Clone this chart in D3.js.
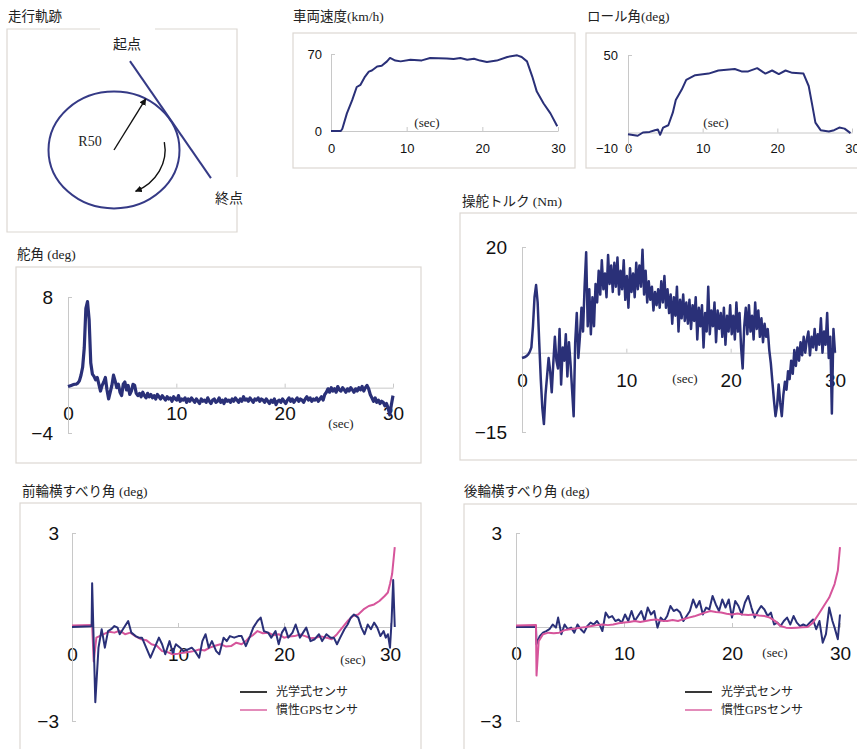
<!DOCTYPE html>
<html>
<head>
<meta charset="utf-8">
<script src="https://cdn.jsdelivr.net/npm/d3@7"></script>
<style>
    body { margin: 0; background: #fff; }
    svg { display: block; }
    .title { font-family: 'Liberation Serif', 'Noto Sans CJK JP', serif; font-size: 13.5px; fill: #222; }
    .unit { font-family: 'Liberation Serif', serif; font-size: 13px; fill: #222; }
    .legend { font-family: 'Liberation Serif', 'Noto Sans CJK JP', serif; font-size: 12px; fill: #222; }
    .frame { fill: none; stroke: #dcd7d2; stroke-width: 1.2; }
    .mark { font-family: 'Noto Sans CJK JP', sans-serif; font-size: 14px; fill: #222; }
</style>
</head>
<body>
<svg id="fig"></svg>
<script>
'use strict';

const figWidth = 857;
const figHeight = 749;
const navy = '#2a3078';
const pink = '#d6559b';

// ---- data ----
const xTicks = [0, 10, 20, 30];

const speedTicks = [0, 70];
const speed = [[0,0],[1.3,0],[1.5,2],[2.1,16],[2.8,28],[3.4,40],[3.9,42],[4.5,49.5],[5,54],[5.4,55],[6.1,58.7],[6.7,59.3],
    [7.4,63.3],[7.8,66.4],[8.5,64],[9.2,63.3],[10.5,64.8],[12,64.2],[13.1,66.4],[15.3,66],[16.2,65.4],[17.1,66.4],[18,64.8],
    [18.9,65.7],[19.7,64],[20.6,62.7],[21.9,64],[23.3,67.3],[24.6,68.8],[25.2,67.3],[25.9,63.3],[26.6,49.5],[27.2,35.8],
    [28.1,25],[29,16],[29.9,4.3]];

const rollTicks = [-10, 50];
const roll = [[0,-1.1],[1.3,-2.1],[2,0],[2.9,0.4],[3.6,1.5],[4,2],[4.3,-1.5],[4.7,3.2],[5.4,4.7],[6,12.8],[6.4,21],[7.2,27.7],
    [7.8,34],[9,37],[10.8,38],[12.1,40],[14.3,41],[15.2,39.4],[16.1,39.4],[17.3,41.5],[18.4,38],[19.3,40],[20.2,37.7],
    [21.1,40],[22,38.5],[23.5,38],[24.2,30],[24.7,17],[25.1,6.4],[25.8,1.5],[26.9,0.6],[27.6,1.5],[28.3,3.2],[29,2.5],[29.8,-0.4]];

// sampled every 0.15 s
const sampleStep = 0.15;
const steerTicks = [-4, 8];
const steer = [
    0.1,0.15,0.2,0.25,0.3,0.3,0.4,0.6,1.1,1.8,3.5,7.0,7.6,6.0,2.2,1.2,1.0,0.7,0.9,0.3,
    -0.3,0.2,0.5,0.9,-0.2,-1.0,-0.4,0.2,1.1,0.6,0.0,0.3,-0.4,-0.7,0.3,0.5,-0.2,0.2,-0.6,-0.3,
    0.3,0.2,-0.5,-0.7,-0.5,-0.8,-0.4,-0.7,-0.9,-0.5,-0.8,-0.6,-0.9,-0.7,-1.0,-0.6,-0.8,-1.0,-0.7,-0.9,
    -1.1,-0.8,-1.0,-0.9,-1.2,-0.8,-1.0,-1.1,-0.7,-1.2,-1.0,-1.1,-0.9,-1.3,-1.0,-1.2,-0.9,-1.1,-1.3,-1.0,
    -1.2,-1.4,-1.0,-1.2,-1.1,-1.3,-0.9,-1.2,-1.4,-1.1,-1.0,-1.3,-1.2,-0.9,-1.3,-1.1,-1.4,-1.0,-1.2,-1.1,
    -1.3,-1.0,-1.2,-0.9,-1.1,-1.3,-1.0,-1.2,-0.8,-1.1,-1.0,-1.2,-0.9,-1.1,-1.3,-1.0,-1.1,-0.9,-1.2,-1.0,
    -1.1,-1.3,-1.0,-1.2,-1.4,-1.1,-1.3,-1.0,-1.5,-1.2,-1.1,-1.3,-1.0,-1.2,-1.4,-1.1,-0.9,-1.2,-1.0,-1.3,
    -1.1,-0.9,-1.2,-1.0,-1.1,-1.3,-1.0,-0.8,-1.1,-0.9,-1.2,-1.0,-1.1,-0.9,-1.2,-1.0,-0.8,-1.1,-0.6,-0.4,
    -0.1,-0.4,0.0,-0.3,-0.1,-0.4,0.1,-0.2,-0.3,0.0,-0.2,-0.4,-0.1,-0.3,0.0,-0.2,-0.4,-0.1,-0.3,0.0,
    -0.2,0.1,-0.3,0.0,0.2,-0.1,-0.6,-0.9,-1.2,-0.9,-1.3,-1.1,-1.4,-1.2,-1.3,-1.6,-1.4,-1.8,-2.4,-1.5,
    -0.7];

const torqueTicks = [-15, 20];
const torque = [
    -1.0,-0.9,-0.8,-0.6,-0.3,0.2,1.0,5.0,10.5,12.8,9.5,2.0,-5.0,-10.5,-13.5,-8.0,-4.5,-1.0,-3.5,-7.5,
    -2.0,3.0,-1.5,-3.0,4.5,-6.0,1.0,-1.5,3.5,-4.5,2.0,-2.0,-7.0,-12.0,2.0,7.5,-1.0,3.0,8.5,4.0,
    12.5,19.0,5.0,12.0,3.5,10.5,5.0,13.0,9.5,15.5,11.0,17.5,12.0,15.0,10.5,18.5,13.0,16.5,11.5,17.0,
    12.5,18.0,11.0,15.5,12.0,17.5,10.0,14.5,8.5,16.0,11.5,15.0,10.5,17.0,12.0,16.5,12.5,19.5,11.0,15.5,
    9.5,13.5,10.0,12.5,8.0,11.5,9.0,12.0,8.5,13.5,9.5,14.5,8.5,12.0,7.5,11.0,5.5,10.5,7.0,12.5,
    4.0,10.0,6.5,11.0,6.0,9.5,5.5,10.0,4.5,9.0,6.0,10.5,2.5,8.5,5.0,9.0,1.0,7.5,4.0,12.5,
    3.5,8.0,5.0,9.5,2.0,8.0,4.5,7.5,3.0,8.5,1.5,7.0,4.0,9.0,3.5,7.0,2.5,9.5,4.0,7.5,
    1.0,-3.0,5.0,8.5,3.5,9.0,4.0,7.0,2.5,9.5,4.5,8.0,3.0,6.5,2.0,5.5,3.0,4.5,0.5,-2.0,
    -5.5,-9.0,-12.0,-10.0,-6.0,-9.5,-12.0,-8.0,-5.5,-7.0,-3.5,-5.0,-1.5,-4.0,0.5,-2.5,1.0,-1.5,2.0,-0.5,
    3.0,0.0,2.5,4.0,-0.5,3.0,1.0,4.5,0.5,3.5,1.5,6.5,0.0,4.0,1.5,7.5,-1.0,3.0,-11.5,4.5,
    0.0];

const slipTicks = [-3, 3];
const frontOptical = [[0,0],[1.85,0.02],[1.9,1.4],[2.2,-2.4],[2.5,-0.66],[2.8,-0.07],[3.1,-0.66],[3.4,-0.13],[3.7,-0.07],
    [4.0,0.03],[4.3,-0.02],[4.5,-0.23],[4.7,-0.13],[5.0,0.03],[5.3,0.19],[5.6,-0.18],[6.0,-0.29],[6.3,-0.34],[6.6,-0.34],
    [7.0,-0.66],[7.4,-0.98],[7.8,-0.66],[8.2,-0.34],[8.5,-0.55],[8.8,-0.87],[9.2,-0.45],[9.5,-0.82],[9.8,-0.55],[10.2,-0.66],
    [10.5,-0.77],[10.9,-0.72],[11.3,-0.66],[11.6,-0.77],[12.0,-0.98],[12.3,-0.45],[12.6,-0.23],[12.9,-0.66],[13.2,-0.45],
    [13.6,-0.77],[13.9,-0.87],[14.3,-0.34],[14.6,-0.45],[14.9,-0.29],[15.3,-0.34],[15.7,-0.29],[16.0,-0.29],[16.4,-0.61],
    [16.8,-0.29],[17.1,-0.02],[17.5,0.19],[17.8,0.3],[18.1,-0.13],[18.5,-0.18],[18.8,-0.34],[19.2,-0.13],[19.5,-0.55],
    [19.8,-0.18],[20.1,-0.02],[20.4,-0.34],[20.8,-0.18],[21.1,0.08],[21.5,-0.34],[21.8,-0.18],[22.1,-0.02],[22.5,-0.45],
    [22.9,-0.39],[23.3,-0.23],[23.6,-0.45],[24.0,-0.23],[24.4,-0.34],[24.7,-0.34],[25.0,-0.55],[25.3,-0.34],[25.7,-0.07],
    [26.0,0.08],[26.3,0.3],[26.6,0.4],[27.0,0.3],[27.3,-0.02],[27.6,-0.23],[27.9,0.08],[28.2,-0.07],[28.5,0.14],[28.8,-0.02],
    [29.1,-0.29],[29.4,-0.13],[29.6,-0.34],[29.8,-0.23],[30.0,-0.66],[30.15,0.19],[30.3,1.5],[30.45,0.0]];
const frontInertial = [[0,0.05],[1.9,0.06],[2.05,-1.1],[2.3,-0.34],[2.6,-0.29],[3,-0.23],[3.5,-0.15],[4,-0.18],[4.5,-0.12],
    [5,-0.23],[5.5,-0.18],[6,-0.3],[6.5,-0.39],[7,-0.42],[7.5,-0.55],[8,-0.6],[8.5,-0.77],[9,-0.8],[9.5,-0.87],[10,-0.85],
    [10.5,-0.82],[11,-0.8],[11.5,-0.77],[12,-0.72],[12.5,-0.75],[13,-0.66],[13.5,-0.6],[14,-0.55],[14.5,-0.62],[15,-0.61],
    [15.5,-0.5],[16,-0.55],[16.4,-0.45],[16.7,-0.34],[17.1,-0.25],[17.5,-0.13],[18,-0.2],[18.5,-0.18],[19,-0.26],[19.5,-0.23],
    [20,-0.34],[20.5,-0.3],[21,-0.29],[21.5,-0.24],[22,-0.29],[22.5,-0.36],[23,-0.34],[23.5,-0.3],[24,-0.34],[24.5,-0.39],
    [25,-0.23],[25.5,-0.02],[26,0.19],[26.5,0.35],[27,0.4],[27.5,0.56],[28,0.67],[28.5,0.72],[29,0.83],[29.5,0.99],
    [29.8,1.1],[30,1.37],[30.2,1.69],[30.45,2.55]];

const rearOptical = [[0,0],[1.85,0],[1.9,-0.55],[2.2,-0.29],[2.5,-0.18],[2.8,-0.13],[3.1,-0.07],[3.4,0.08],[3.7,-0.02],
    [3.9,0.3],[4.2,-0.23],[4.5,0.08],[4.8,-0.07],[5.1,-0.02],[5.4,-0.18],[5.7,0.08],[6.0,-0.07],[6.3,-0.18],[6.6,0.03],
    [6.9,0.14],[7.2,0.08],[7.5,0.19],[7.8,0.03],[8.0,-0.13],[8.3,0.46],[8.6,0.3],[8.9,0.35],[9.2,0.19],[9.5,0.24],[9.8,0.14],
    [10.1,0.4],[10.4,0.19],[10.7,0.51],[11.0,0.19],[11.3,0.35],[11.6,0.51],[11.9,0.19],[12.2,0.62],[12.5,0.4],[12.8,0.51],
    [13.1,-0.02],[13.4,0.3],[13.7,0.19],[14.0,0.35],[14.3,0.67],[14.6,0.51],[14.9,0.56],[15.2,0.46],[15.5,0.19],[15.8,0.35],
    [16.1,0.51],[16.4,0.88],[16.7,0.62],[17.0,0.83],[17.3,0.4],[17.6,0.62],[17.9,0.56],[18.2,0.99],[18.5,0.72],[18.8,0.51],
    [19.1,0.88],[19.4,0.62],[19.7,0.88],[20.0,0.3],[20.3,0.83],[20.6,0.67],[20.9,0.4],[21.2,0.78],[21.5,0.99],[21.8,0.62],
    [22.1,0.3],[22.4,0.51],[22.7,0.67],[23.0,0.56],[23.3,0.35],[23.6,0.46],[23.9,0.08],[24.2,0.14],[24.5,0.03],[24.8,0.19],
    [25.1,0.3],[25.4,0.08],[25.7,0.35],[26.0,0.14],[26.3,0.03],[26.6,0.08],[26.9,0.03],[27.2,0.14],[27.5,0.24],[27.8,-0.07],
    [28.1,0.19],[28.4,-0.5],[28.7,-0.23],[29.0,0.62],[29.3,0.19],[29.5,-0.02],[29.8,-0.39],[30.0,0.4]];
const rearInertial = [[0,0.05],[1.85,0.06],[1.9,-1.55],[2.1,-0.45],[2.5,-0.23],[3,-0.18],[3.5,-0.2],[4,-0.18],[4.5,-0.1],
    [5,-0.07],[5.5,-0.05],[6,-0.02],[6.5,0.0],[7,0.03],[7.5,0.06],[8,0.08],[8.5,0.06],[9,0.08],[9.5,0.12],[10,0.14],
    [10.5,0.16],[11,0.19],[11.5,0.16],[12,0.19],[12.5,0.22],[13,0.24],[13.5,0.2],[14,0.19],[14.5,0.22],[15,0.19],
    [15.5,0.25],[16,0.3],[16.5,0.34],[17,0.4],[17.5,0.46],[18,0.51],[18.5,0.48],[19,0.46],[19.5,0.42],[20,0.4],[20.5,0.43],
    [21,0.4],[21.5,0.38],[22,0.4],[22.5,0.37],[23,0.35],[23.5,0.3],[24,0.19],[24.5,0.03],[25,-0.02],[25.5,-0.03],[26,-0.02],
    [26.5,-0.01],[27,0.0],[27.5,0.14],[28,0.4],[28.5,0.67],[29,0.94],[29.5,1.37],[29.8,1.8],[30,2.55]];

const legendNames = ['光学式センサ', '慣性GPSセンサ'];

// track diagram, metres
const trackRadius = 50;
const trackLine = [[12.2, 76], [74, -24]];
const radiusAngle = 61;
const turnArrow = {radius: 39, from: 10, to: -65};

// ---- layout ----
const svg = d3.select('#fig').attr('width', figWidth).attr('height', figHeight);

const defs = svg.append('defs');
defs.append('marker')
    .attr('id', 'head')
    .attr('viewBox', '0 0 10 10')
    .attr('refX', 9).attr('refY', 5)
    .attr('markerWidth', 7).attr('markerHeight', 7)
    .attr('markerUnits', 'userSpaceOnUse')
    .attr('orient', 'auto')
    .append('path').attr('d', 'M0,0 L10,5 L0,10 Z').attr('fill', '#111');

function drawFrame(x0, y0, x1, y1) {
    svg.append('rect')
        .attr('class', 'frame')
        .attr('x', x0).attr('y', y0)
        .attr('width', x1 - x0).attr('height', y1 - y0);
}

function drawTitle(text, x, y) {
    svg.append('text').attr('class', 'title').attr('x', x).attr('y', y).text(text);
}

function drawPanel(cfg) {
    drawFrame(...cfg.frame);
    drawTitle(cfg.title, cfg.titleAt[0], cfg.titleAt[1]);

    const x = d3.scaleLinear().domain([0, 30]).range(cfg.xRange);
    const y = d3.scaleLinear().domain(cfg.yDomain).range(cfg.yRange);
    const labelFont = cfg.big ? 19 : 13;

    const xAxis = d3.axisBottom(x)
        .tickValues(xTicks)
        .tickFormat(d3.format('d'))
        .tickSizeInner(-4)
        .tickSizeOuter(0)
        .tickPadding(cfg.xLabelOffset - labelFont * 0.35);
    const gx = svg.append('g')
        .attr('transform', `translate(0, ${y(0)})`)
        .call(xAxis);

    const yAxis = d3.axisLeft(y)
        .tickValues(cfg.yTicks)
        .tickFormat(d3.format('d'))
        .tickSizeInner(-4)
        .tickSizeOuter(0)
        .tickPadding(cfg.yLabelPad);
    const gy = svg.append('g')
        .attr('transform', `translate(${x(0)}, 0)`)
        .call(yAxis);

    [gx, gy].forEach(g => {
        g.attr('font-family', "'Liberation Sans', Arial, sans-serif")
            .attr('font-size', labelFont);
        g.selectAll('path, line').attr('stroke', '#c8c8c8');
        g.selectAll('text').attr('fill', '#111');
    });
    gx.select('.tick:first-of-type line').remove();

    svg.append('text')
        .attr('class', 'unit')
        .attr('x', cfg.secAt[0]).attr('y', cfg.secAt[1])
        .attr('text-anchor', 'middle')
        .attr('dominant-baseline', 'central')
        .text('(sec)');

    const line = d3.line().x(d => x(d[0])).y(d => y(d[1]));
    cfg.series.forEach(s => {
        svg.append('path')
            .datum(s.data)
            .attr('fill', 'none')
            .attr('stroke', s.color)
            .attr('stroke-width', s.width)
            .attr('stroke-linejoin', 'round')
            .attr('d', line);
    });

    if (cfg.legendAt) {
        const [lx, ly] = cfg.legendAt;
        [navy, pink].forEach((c, i) => {
            svg.append('line')
                .attr('x1', lx).attr('x2', lx + 27)
                .attr('y1', ly + i * 18).attr('y2', ly + i * 18)
                .attr('stroke', i === 0 ? '#222' : '#e07fb3')
                .attr('stroke-width', 1.8);
            svg.append('text')
                .attr('class', 'legend')
                .attr('x', lx + 36).attr('y', ly + i * 18)
                .attr('dominant-baseline', 'central')
                .text(legendNames[i]);
        });
    }
}

function sampled(values) {
    return values.map((v, i) => [i * sampleStep, v]);
}

function drawTrack() {
    const tx = d3.scaleLinear().domain([-50, 50]).range([48.5, 179.5]);
    const ty = d3.scaleLinear().domain([-50, 50]).range([208.5, 91.5]);

    // frame with gaps where the labels sit
    const frame = d3.path();
    frame.moveTo(100, 29); frame.lineTo(7, 29); frame.lineTo(7, 232); frame.lineTo(237, 232); frame.lineTo(237, 205);
    frame.moveTo(237, 177); frame.lineTo(237, 29); frame.lineTo(155, 29);
    svg.append('path').attr('class', 'frame').attr('d', frame.toString());

    drawTitle('走行軌跡', 8, 21);

    svg.append('ellipse')
        .attr('cx', tx(0)).attr('cy', ty(0))
        .attr('rx', tx(trackRadius) - tx(0)).attr('ry', ty(0) - ty(trackRadius))
        .attr('fill', 'none').attr('stroke', '#353a86').attr('stroke-width', 2);

    svg.append('line')
        .attr('x1', tx(trackLine[0][0])).attr('y1', ty(trackLine[0][1]))
        .attr('x2', tx(trackLine[1][0])).attr('y2', ty(trackLine[1][1]))
        .attr('stroke', '#353a86').attr('stroke-width', 2);

    const a = radiusAngle * Math.PI / 180;
    svg.append('line')
        .attr('x1', tx(0)).attr('y1', ty(0))
        .attr('x2', tx(trackRadius * Math.cos(a))).attr('y2', ty(trackRadius * Math.sin(a)))
        .attr('stroke', '#111').attr('stroke-width', 1.4)
        .attr('marker-end', 'url(#head)');

    const r = turnArrow.radius;
    const a0 = turnArrow.from * Math.PI / 180;
    const a1 = turnArrow.to * Math.PI / 180;
    const rx = tx(r) - tx(0);
    const ry = ty(0) - ty(r);
    svg.append('path')
        .attr('d', `M${tx(r * Math.cos(a0))},${ty(r * Math.sin(a0))} A${rx},${ry} 0 0 1 ${tx(r * Math.cos(a1))},${ty(r * Math.sin(a1))}`)
        .attr('fill', 'none').attr('stroke', '#111').attr('stroke-width', 1.4)
        .attr('marker-end', 'url(#head)');

    svg.append('text').attr('class', 'mark').attr('x', 127).attr('y', 43)
        .attr('text-anchor', 'middle').attr('dominant-baseline', 'central').text('起点');
    svg.append('text').attr('class', 'mark').attr('x', 229).attr('y', 197)
        .attr('text-anchor', 'middle').attr('dominant-baseline', 'central').text('終点');
    svg.append('text').attr('class', 'unit').style('font-size', '14px').attr('x', 90).attr('y', 141)
        .attr('text-anchor', 'middle').attr('dominant-baseline', 'central').text('R50');
}

drawTrack();

drawPanel({
    title: '車両速度(km/h)', titleAt: [293, 21], frame: [293, 33, 575, 168],
    xRange: [331, 558], yDomain: [0, 70], yRange: [131, 54], yTicks: speedTicks,
    xLabelOffset: 17, yLabelPad: 9, secAt: [427, 122],
    series: [{data: speed, color: navy, width: 2}]
});

drawPanel({
    title: 'ロール角(deg)', titleAt: [587, 21], frame: [586, 33, 870, 168],
    xRange: [628, 852], yDomain: [-10, 50], yRange: [148, 55], yTicks: rollTicks,
    xLabelOffset: 15.5, yLabelPad: 10, secAt: [716, 122],
    series: [{data: roll, color: navy, width: 2}]
});

drawPanel({
    title: '舵角 (deg)', titleAt: [17, 259], frame: [16, 267, 421, 463], big: true,
    xRange: [68, 393], yDomain: [-4, 8], yRange: [433, 297], yTicks: steerTicks,
    xLabelOffset: 26, yLabelPad: 15, secAt: [341, 423],
    series: [{data: sampled(steer), color: navy, width: 3.2}]
});

drawPanel({
    title: '操舵トルク (Nm)', titleAt: [462, 206], frame: [460, 213, 870, 460], big: true,
    xRange: [522, 835], yDomain: [-15, 20], yRange: [432, 247], yTicks: torqueTicks,
    xLabelOffset: 27, yLabelPad: 15, secAt: [685, 378],
    series: [{data: sampled(torque), color: navy, width: 2.5}]
});

drawPanel({
    title: '前輪横すべり角 (deg)', titleAt: [22, 496], frame: [20, 503, 421, 760], big: true,
    xRange: [72, 390], yDomain: [-3, 3], yRange: [721, 533], yTicks: slipTicks,
    xLabelOffset: 27, yLabelPad: 13, secAt: [353, 659], legendAt: [240, 692],
    series: [
        {data: frontInertial, color: pink, width: 2},
        {data: frontOptical, color: navy, width: 2}
    ]
});

drawPanel({
    title: '後輪横すべり角 (deg)', titleAt: [464, 496], frame: [464, 504, 870, 760], big: true,
    xRange: [516, 840], yDomain: [-3, 3], yRange: [721, 533], yTicks: slipTicks,
    xLabelOffset: 26, yLabelPad: 14, secAt: [775, 652], legendAt: [685, 692],
    series: [
        {data: rearOptical, color: navy, width: 2},
        {data: rearInertial, color: pink, width: 2}
    ]
});
</script>
</body>
</html>
